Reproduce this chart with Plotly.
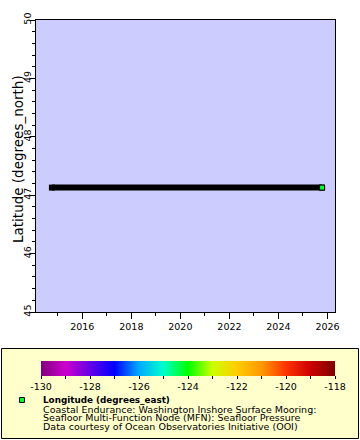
import plotly.graph_objects as go

# ---- data ----
times = ["2014-10-05", "2025-10-12"]          # first and last observation
latitudes = [47.13, 47.13]
last_time = ["2025-10-12"]
last_lat = [47.13]
last_lon = [-124.27]

lon_min, lon_max = -130, -118
cbar_vals = list(range(-130, -117))
cbar_text = [str(v) if v % 2 == 0 else "" for v in cbar_vals]

x_range = ["2014-02-10", "2026-04-23"]
y_range = [45, 50]

legend_lines = [
    "Coastal Endurance: Washington Inshore Surface Mooring:",
    "Seafloor Multi-Function Node (MFN): Seafloor Pressure",
    "Data courtesy of Ocean Observatories Initiative (OOI)",
]
legend_title = "Longitude (degrees_east)"

colorscale = [
    [0 / 12, "rgb(128,0,128)"],
    [1 / 12, "rgb(204,0,204)"],
    [3 / 12, "rgb(0,0,255)"],
    [4 / 12, "rgb(0,170,255)"],
    [5 / 12, "rgb(0,255,204)"],
    [6 / 12, "rgb(0,255,0)"],
    [7 / 12, "rgb(204,255,0)"],
    [8 / 12, "rgb(255,204,0)"],
    [9 / 12, "rgb(255,153,0)"],
    [10 / 12, "rgb(255,51,0)"],
    [11 / 12, "rgb(204,0,0)"],
    [12 / 12, "rgb(128,0,0)"],
]

W, H = 360, 440
FONT = "DejaVu Sans"

def px(x):
    return x / W

def py(y):
    return 1 - y / H

fig = go.Figure()

fig.add_trace(go.Scatter(
    x=times, y=latitudes, mode="lines+markers",
    line=dict(color="black", width=6),
    marker=dict(symbol="square", size=6, color="black", line=dict(width=0)),
    showlegend=False, hoverinfo="skip",
))

fig.add_trace(go.Scatter(
    x=last_time, y=last_lat, mode="markers",
    marker=dict(
        symbol="square", size=5, color=last_lon,
        colorscale=colorscale, cmin=lon_min, cmax=lon_max,
        line=dict(color="black", width=1),
        showscale=True,
        colorbar=dict(
            orientation="h",
            x=px((41 + 335) / 2), xanchor="center",
            len=294 / W, lenmode="fraction",
            y=py(361), yanchor="top",
            thickness=15, thicknessmode="pixels",
            xpad=0, ypad=0,
            outlinewidth=0,
            tickmode="array", tickvals=cbar_vals, ticktext=cbar_text,
            ticks="outside", ticklen=3, tickcolor="black", tickwidth=1,
            tickfont=dict(family=FONT, size=9.5, color="black"),
            bgcolor="rgba(0,0,0,0)",
        ),
    ),
    showlegend=False,
))

fig.update_layout(
    width=W, height=H,
    margin=dict(l=0, r=0, t=0, b=0, pad=0, autoexpand=False),
    paper_bgcolor="white",
    plot_bgcolor="rgb(204,204,255)",
    font=dict(family=FONT, size=9.5, color="black"),
    showlegend=False,
    xaxis=dict(
        domain=[px(36), px(335)], automargin=False,
        type="date", range=x_range,
        tick0="2016-01-01", dtick="M24", tickformat="%Y",
        ticks="outside", ticklen=6, tickcolor="black",
        minor=dict(dtick="M12", ticks="outside", ticklen=3, tickcolor="black"),
        showline=True, linecolor="black", linewidth=1, mirror=True,
        showgrid=False, zeroline=False,
        tickfont=dict(family=FONT, size=9.5, color="black"),
    ),
    yaxis=dict(
        domain=[py(312), py(20)], automargin=False,
        range=y_range, dtick=1, tickangle=-90,
        ticks="outside", ticklen=5, tickcolor="black",
        ticklabelstandoff=-5,
        minor=dict(dtick=0.2, ticks="outside", ticklen=3, tickcolor="black"),
        showline=True, linecolor="black", linewidth=1, mirror=True,
        showgrid=False, zeroline=False,
        tickfont=dict(family=FONT, size=9.5, color="black"),
    ),
)

# y axis title
fig.add_annotation(
    text="Latitude (degrees_north)", xref="paper", yref="paper",
    x=px(8), y=py(159), textangle=-90, showarrow=False,
    font=dict(family=FONT, size=13.5, color="black"),
)

# legend box
fig.add_shape(type="rect", xref="paper", yref="paper",
              x0=px(1.5), x1=px(358.5), y0=py(438.5), y1=py(348.5),
              line=dict(color="black", width=1), fillcolor="rgb(255,255,204)",
              layer="below")
# legend marker
fig.add_shape(type="rect", xref="paper", yref="paper",
              x0=px(19.5), x1=px(24.5), y0=py(402.5), y1=py(397.5),
              line=dict(color="black", width=1), fillcolor="rgb(0,255,40)")

fig.add_annotation(
    text="<b>" + legend_title + "</b>", xref="paper", yref="paper",
    x=px(40.5), y=py(400), xanchor="left", yanchor="middle", showarrow=False,
    font=dict(family=FONT, size=8.8, color="black"),
)
for i, line in enumerate(legend_lines):
    fig.add_annotation(
        text=line, xref="paper", yref="paper",
        x=px(40.5), y=py(409 + 8.7 * i), xanchor="left", yanchor="middle",
        showarrow=False, font=dict(family=FONT, size=9.5, color="black"),
    )

fig.write_html("out.html", config={"displayModeBar": False},
               post_script="document.body.style.margin='0';document.body.style.overflow='hidden';")
